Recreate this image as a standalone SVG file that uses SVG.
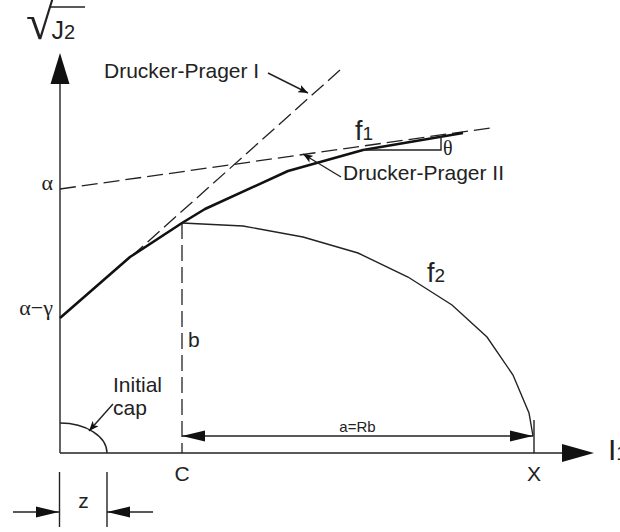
<svg xmlns="http://www.w3.org/2000/svg" width="620" height="532" viewBox="0 0 620 532">
<defs>
<style>
.ln{fill:none;stroke:#222;stroke-width:1.4}
.bold{fill:none;stroke:#111;stroke-width:2.6;stroke-linejoin:round}
.dash{fill:none;stroke:#222;stroke-width:1.3;stroke-dasharray:16 6}
.ah{fill:#111;stroke:none}
.t{font-family:"Liberation Sans",Arial,sans-serif;fill:#222}
.s{font-family:"Liberation Serif","Times New Roman",serif;fill:#222}
</style>
<marker id="lead" viewBox="0 0 10 8" refX="10" refY="4" markerWidth="10" markerHeight="8" markerUnits="userSpaceOnUse" orient="auto">
<path d="M0,0 L10,4 L0,8 L2.5,4 Z" fill="#111"/>
</marker>
</defs>
<rect width="620" height="532" fill="#fff"/>

<g id="axes">
<line class="ln" x1="60" y1="84" x2="60" y2="453"/>
<polygon class="ah" points="60,53 50.5,84 69.5,84"/>
<line class="ln" x1="60" y1="453" x2="562" y2="453"/>
<polygon class="ah" points="594,453 562,444 562,462"/>
<text class="t" x="26" y="39" font-size="25"><tspan class="s" font-size="50">√</tspan><tspan dx="-2">J</tspan><tspan font-size="20">2</tspan></text>
<line class="ln" x1="49" y1="7" x2="85" y2="7"/>
<text class="t" x="608" y="460" font-size="30">I<tspan font-size="20">1</tspan></text>
</g>

<g id="connectors">
<line class="dash" x1="340" y1="70" x2="133" y2="255"/>
<line class="dash" x1="60" y1="189" x2="490" y2="128"/>
<line class="dash" x1="182" y1="223" x2="182" y2="453"/>
<polyline class="bold" points="60,318 130,257 182,223 205,209 288,171 363,150 463,133"/>
<polyline class="ln" points="363,150 441,150 441,136"/>
<polyline class="ln" points="182,223 243,226 303,237 358,253 408,277 452,305 487,337 513,375 529,413 533,436"/>
<path class="ln" d="M60,423 A47,30 0 0 1 107,453"/>
<line class="ln" x1="268" y1="73" x2="308" y2="93" marker-end="url(#lead)"/>
<line class="ln" x1="341" y1="177" x2="303" y2="154" marker-end="url(#lead)"/>
<line class="ln" x1="113" y1="404" x2="89" y2="431" marker-end="url(#lead)"/>
</g>

<g id="dim-a">
<line class="ln" x1="182" y1="436" x2="533" y2="436"/>
<polygon class="ah" points="182,436 205,430.5 205,441.5"/>
<polygon class="ah" points="533,436 510,430.5 510,441.5"/>
<line class="ln" x1="534" y1="420" x2="534" y2="453"/>
<text class="t" x="357.5" y="432" font-size="15" text-anchor="middle">a=Rb</text>
</g>

<g id="dim-z">
<line class="ln" x1="59.5" y1="472" x2="59.5" y2="527"/>
<line class="ln" x1="107" y1="472" x2="107" y2="527"/>
<line class="ln" x1="13" y1="512" x2="59" y2="512"/>
<polygon class="ah" points="59,512 36,506.5 36,517.5"/>
<line class="ln" x1="107" y1="512" x2="153" y2="512"/>
<polygon class="ah" points="107,512 130,506.5 130,517.5"/>
<text class="t" x="83.5" y="508" font-size="21" text-anchor="middle">z</text>
</g>

<g id="labels">
<text class="t" x="104" y="78" font-size="21">Drucker-Prager I</text>
<text class="t" x="343" y="180" font-size="21">Drucker-Prager II</text>
<text class="t" x="355" y="140" font-size="27">f<tspan font-size="19">1</tspan></text>
<text class="t" x="427" y="282" font-size="27">f<tspan font-size="19">2</tspan></text>
<text class="s" x="443" y="155" font-size="20">θ</text>
<text class="s" x="53" y="190" font-size="22" text-anchor="end">α</text>
<text class="s" x="53" y="315" font-size="22" text-anchor="end">α−γ</text>
<text class="t" x="188" y="347" font-size="21">b</text>
<text class="t" x="113" y="392" font-size="21">Initial</text>
<text class="t" x="113" y="415" font-size="21">cap</text>
<text class="t" x="182" y="481" font-size="21" text-anchor="middle">C</text>
<text class="t" x="534" y="481" font-size="21" text-anchor="middle">X</text>
</g>
</svg>
